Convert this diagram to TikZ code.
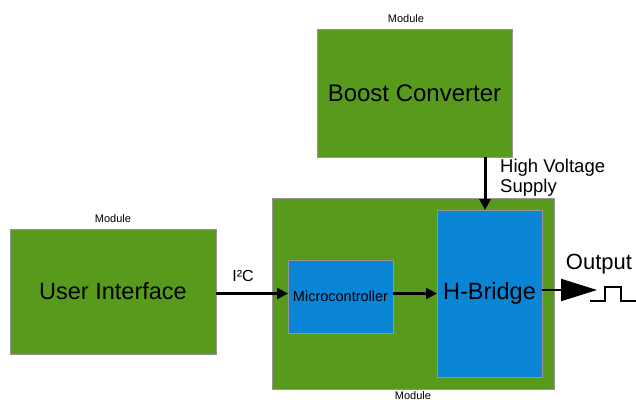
\documentclass[tikz,border=0pt]{standalone}
\usepackage{fontspec}
\setmainfont{Liberation Sans}
\usetikzlibrary{arrows.meta,calc}
\definecolor{modgreen}{RGB}{88,155,28}
\definecolor{chipblue}{RGB}{10,132,212}
\definecolor{edgegray}{RGB}{150,150,150}
\tikzset{
  modbox/.style={draw=edgegray, line width=1pt, fill=modgreen, inner sep=0pt, outer sep=0pt},
  chipbox/.style={draw=edgegray, line width=0.8pt, fill=chipblue, inner sep=0pt, outer sep=0pt},
  bigtxt/.style={font=\fontsize{23.5}{27}\selectfont},
  smalltxt/.style={font=\fontsize{11}{13}\selectfont},
  arr/.style={line width=3pt, -{Triangle[length=11pt,width=11pt]}},
}
\begin{document}
\begin{tikzpicture}[x=1pt,y=-1pt]
\useasboundingbox (0,0) rectangle (636,401);
% modules
\node[modbox, minimum width=282pt, minimum height=191pt] (main) at (413,293.5) {};
\node[modbox, minimum width=195pt, minimum height=127pt, font=\fontsize{24}{28}\selectfont] (boost) at (414.5,93.5) {Boost Converter};
\node[modbox, minimum width=206pt, minimum height=125pt, bigtxt] (ui) at (113,291.5) {User Interface};
\node[chipbox, minimum width=105pt, minimum height=73pt, font=\fontsize{14.5}{17}\selectfont] (mc) at (340.5,296.5) {Microcontroller};
\node[chipbox, minimum width=105pt, minimum height=167pt, bigtxt] (hb) at (489.5,293.5) {H-Bridge};
% labels
\node[smalltxt] (m1) at (113,219) {Module};
\node[smalltxt] (m2) at (406,19) {Module};
\node[smalltxt] (m3) at (413,396) {Module};
\node[font=\fontsize{18.5}{20}\selectfont, align=left, anchor=north west, inner sep=0pt] (hv) at (500,159) {High Voltage\\Supply};
\node[font=\fontsize{16}{18}\selectfont] (i2c) at (243,276) {I²C};
\node[font=\fontsize{22}{26}\selectfont] (outl) at (599,264) {Output};
% connectors
\draw[arr] (ui.east |- hb.west) -- (mc.west |- hb.west);
\draw[arr] (mc.east |- hb.west) -- (hb.west);
\coordinate (hvx) at (485,0);
\draw[arr] (boost.south -| hvx) -- (hb.north -| hvx);
\coordinate (out) at (597,290);
\draw[line width=2pt, -{Triangle[length=36pt,width=22pt]}] (hb.east |- out) -- (out);
\draw[line width=2pt] (590,301) -- (605,301) -- (605,287) -- (621,287) -- (621,301) -- (636,301);
\end{tikzpicture}
\end{document}
